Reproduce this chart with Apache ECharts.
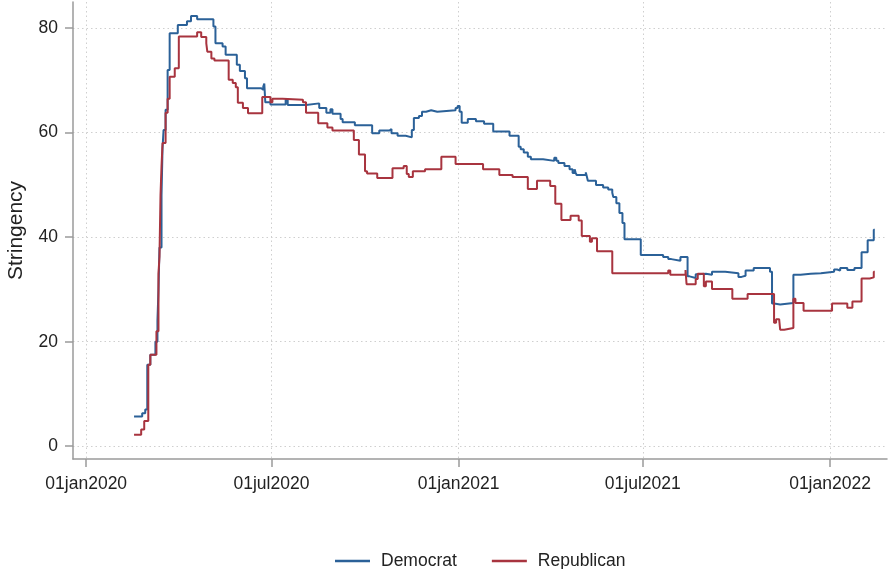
<!DOCTYPE html>
<html>
<head>
<meta charset="utf-8">
<script src="https://cdn.jsdelivr.net/npm/echarts@6/dist/echarts.min.js"></script>
<style>
  html, body { margin: 0; padding: 0; background: #ffffff; }
  #chart { width: 891px; height: 569px; }
</style>
</head>
<body>
<div id="chart"></div>
<script>
// Stringency index by party, step changes (date of change, new level)
const demDates = [
  '2020-02-17','2020-02-25','2020-02-28','2020-03-01','2020-03-04','2020-03-09','2020-03-11','2020-03-12',
  '2020-03-13','2020-03-15','2020-03-16','2020-03-17','2020-03-19','2020-03-21','2020-03-23','2020-03-31',
  '2020-04-09','2020-04-13','2020-04-19','2020-05-05','2020-05-07','2020-05-14','2020-05-17','2020-05-28',
  '2020-05-31','2020-06-05','2020-06-07','2020-06-21','2020-06-23','2020-06-24','2020-06-25','2020-06-30',
  '2020-07-15','2020-07-17','2020-08-04','2020-08-17','2020-08-24','2020-08-28','2020-08-30','2020-09-07',
  '2020-09-09','2020-09-21','2020-10-08','2020-10-15','2020-10-25','2020-10-27','2020-11-02','2020-11-10',
  '2020-11-16','2020-11-18','2020-11-23','2020-11-26','2020-11-30','2020-12-05','2020-12-11','2020-12-29',
  '2020-12-31','2021-01-02','2021-01-04','2021-01-10','2021-01-18','2021-01-26','2021-02-04','2021-02-20',
  '2021-03-01','2021-03-03','2021-03-06','2021-03-10','2021-03-13','2021-03-25','2021-04-05','2021-04-07',
  '2021-04-09','2021-04-15','2021-04-20','2021-04-23','2021-04-25','2021-04-26','2021-04-27','2021-05-06',
  '2021-05-07','2021-05-08','2021-05-16','2021-05-23','2021-05-28','2021-06-01','2021-06-02','2021-06-05',
  '2021-06-08','2021-06-11','2021-06-13','2021-06-29','2021-07-21','2021-07-26','2021-07-29','2021-08-07',
  '2021-08-14','2021-08-16','2021-08-22','2021-08-24','2021-09-01','2021-09-07','2021-09-20','2021-10-03',
  '2021-10-06','2021-10-10','2021-10-18','2021-11-03','2021-11-05','2021-11-07','2021-11-13','2021-11-26',
  '2021-12-03','2021-12-13','2021-12-14','2021-12-23','2022-01-05','2022-01-08','2022-01-11','2022-01-18',
  '2022-01-25','2022-02-01','2022-02-07','2022-02-13','2022-02-14'
];
const demValues = [
  5.7, 6.3, 7.0, 15.6, 17.5, 20.0, 24.0, 30.0,
  38.0, 48.0, 57.0, 60.5, 64.4, 72.0, 79.0, 80.6,
  81.3, 82.3, 81.7, 80.3, 77.1, 76.5, 74.9, 73.0,
  71.8, 70.4, 68.5, 68.2, 68.8, 69.4, 65.8, 65.4,
  66.3, 65.3, 65.6, 64.7, 63.8, 64.5, 63.6, 62.6,
  62.0, 61.4, 59.9, 60.4, 60.7, 59.9, 59.4, 59.1,
  60.5, 62.8, 63.2, 64.0, 64.3, 64.0, 64.3, 64.7,
  65.1, 64.0, 61.9, 62.6, 62.2, 61.7, 60.2, 59.4,
  57.3, 56.8, 56.2, 55.4, 54.9, 54.6, 55.2, 54.6,
  54.2, 53.6, 53.0, 52.3, 53.0, 52.3, 51.9, 52.4,
  51.6, 50.8, 50.0, 49.5, 49.1, 48.5, 47.7, 46.5,
  44.6, 42.7, 39.6, 36.6, 36.2, 35.8, 35.5, 36.2,
  32.5, 32.2, 32.9, 33.0, 32.8, 33.4, 33.1, 32.4,
  32.6, 33.6, 34.1, 33.4, 27.3, 27.1, 27.4, 32.8,
  33.0, 32.7, 33.1, 33.4, 33.8, 33.6, 34.1, 33.7,
  34.1, 37.1, 39.4, 41.4, 41.4
];

const repDates = [
  '2020-02-17','2020-02-24','2020-02-27','2020-03-02','2020-03-04','2020-03-10','2020-03-12','2020-03-13',
  '2020-03-14','2020-03-15','2020-03-16','2020-03-19','2020-03-21','2020-03-23','2020-03-28','2020-04-01',
  '2020-04-19','2020-04-23','2020-04-28','2020-04-29','2020-05-03','2020-05-06','2020-05-20','2020-05-24',
  '2020-05-27','2020-05-29','2020-06-03','2020-06-08','2020-06-22','2020-06-30','2020-07-02','2020-07-12',
  '2020-08-01','2020-08-04','2020-08-16','2020-08-25','2020-08-30','2020-09-20','2020-09-25','2020-10-01',
  '2020-10-03','2020-10-13','2020-10-28','2020-11-08','2020-11-11','2020-11-13','2020-11-17','2020-11-29',
  '2020-12-15','2020-12-29','2021-01-25','2021-02-10','2021-02-23','2021-03-10','2021-03-19','2021-04-01',
  '2021-04-06','2021-04-12','2021-04-21','2021-04-29','2021-05-02','2021-05-10','2021-05-12','2021-05-17',
  '2021-06-01','2021-07-26','2021-07-28','2021-08-12','2021-08-13','2021-08-22','2021-08-24','2021-08-30',
  '2021-09-01','2021-09-07','2021-09-27','2021-10-12','2021-11-07','2021-11-09','2021-11-12','2021-11-13',
  '2021-11-17','2021-11-26','2021-11-28','2021-12-06','2022-01-03','2022-01-18','2022-01-23','2022-02-01',
  '2022-02-09','2022-02-13','2022-02-14'
];
const repValues = [
  2.2, 3.2, 4.8, 15.6, 17.5, 22.0, 33.0, 36.3,
  48.0, 53.6, 58.0, 63.8, 66.5, 70.7, 72.3, 78.4,
  79.2, 78.3, 77.1, 75.5, 74.2, 73.8, 70.1, 69.5,
  68.7, 65.7, 64.7, 63.7, 66.8, 65.8, 66.5, 66.3,
  65.8, 63.8, 61.8, 61.0, 60.4, 58.6, 55.8, 52.6,
  52.2, 51.3, 53.2, 53.6, 52.1, 51.5, 52.6, 53.0,
  55.4, 54.0, 53.0, 51.9, 51.5, 49.2, 50.8, 49.8,
  46.4, 43.3, 44.1, 43.2, 40.2, 39.1, 39.8, 37.3,
  33.1, 33.6, 32.8, 33.7, 31.0, 32.0, 33.0, 30.6,
  31.5, 30.1, 28.2, 29.1, 23.6, 24.3, 24.5, 22.3,
  22.6, 28.2, 27.4, 25.9, 27.3, 26.5, 27.7, 32.1,
  32.3, 33.4, 33.4
];

// Axis ticks and their labels
const xTickDates = ['2020-01-01', '2020-07-01', '2021-01-01', '2021-07-01', '2022-01-01'];
const xTickLabels = ['01jan2020', '01jul2020', '01jan2021', '01jul2021', '01jan2022'];
const yTickValues = [0, 20, 40, 60, 80];
const seriesNames = ['Democrat', 'Republican'];
const seriesColors = ['#2b6198', '#a8343f'];

// dates are placed on a numeric axis as days since 1 Jan 2020
const DAY0 = Date.parse('2020-01-01T00:00:00Z');
const toDay = s => (Date.parse(s + 'T00:00:00Z') - DAY0) / 86400000;
const pairs = (dates, values) => dates.map((d, i) => [toDay(d), values[i]]);

const FONT = '"Liberation Sans", Arial, sans-serif';
const AXIS_GRAY = '#9a9a9a';
const GRID_GRAY = '#cfcfcf';

const xTickDays = xTickDates.map(toDay);

const chart = echarts.init(document.getElementById('chart'), null, { renderer: 'canvas' });
chart.setOption({
  animation: false,
  backgroundColor: '#ffffff',
  textStyle: { fontFamily: FONT },
  grid: { left: 73, right: 4, top: 2, bottom: 110, containLabel: false, outerBoundsMode: 'none' },
  legend: {
    data: seriesNames,
    left: 330,
    top: 547,
    icon: 'rect',
    itemWidth: 35,
    itemHeight: 2.5,
    itemGap: 35,
    textStyle: { fontFamily: FONT, fontSize: 17.5, color: '#222', padding: [0, 0, 0, 6] }
  },
  xAxis: {
    type: 'value',
    min: toDay('2019-12-19'),
    max: toDay('2022-02-26'),
    axisLine: { show: true, onZero: false, lineStyle: { color: AXIS_GRAY, width: 1.5 } },
    axisTick: { show: true, length: 8, lineStyle: { color: AXIS_GRAY, width: 1.5 }, customValues: xTickDays },
    axisLabel: {
      customValues: xTickDays,
      margin: 16,
      fontFamily: FONT,
      fontSize: 17.5,
      color: '#222',
      formatter: v => {
        const i = xTickDays.indexOf(v);
        return i >= 0 ? xTickLabels[i] : '';
      }
    },
    splitLine: { show: true, lineStyle: { color: GRID_GRAY, type: [1.5, 3], width: 1 } }
  },
  yAxis: {
    type: 'value',
    min: -2.45,
    max: 85,
    name: 'Stringency',
    nameLocation: 'middle',
    nameRotate: 90,
    nameGap: 46,
    nameTextStyle: { fontFamily: FONT, fontSize: 21, color: '#222' },
    axisLine: { show: true, onZero: false, lineStyle: { color: AXIS_GRAY, width: 1.5 } },
    axisTick: { show: true, length: 8, lineStyle: { color: AXIS_GRAY, width: 1.5 }, customValues: yTickValues },
    axisLabel: { customValues: yTickValues, margin: 15, fontFamily: FONT, fontSize: 17.5, color: '#222' },
    splitLine: { show: true, lineStyle: { color: GRID_GRAY, type: [1.5, 3], width: 1 } }
  },
  series: [
    {
      name: seriesNames[0],
      type: 'line',
      step: 'end',
      symbol: 'none',
      clip: false,
      color: seriesColors[0],
      lineStyle: { width: 2, color: seriesColors[0] },
      data: pairs(demDates, demValues)
    },
    {
      name: seriesNames[1],
      type: 'line',
      step: 'end',
      symbol: 'none',
      clip: false,
      color: seriesColors[1],
      lineStyle: { width: 2, color: seriesColors[1] },
      data: pairs(repDates, repValues)
    }
  ]
});
</script>
</body>
</html>
